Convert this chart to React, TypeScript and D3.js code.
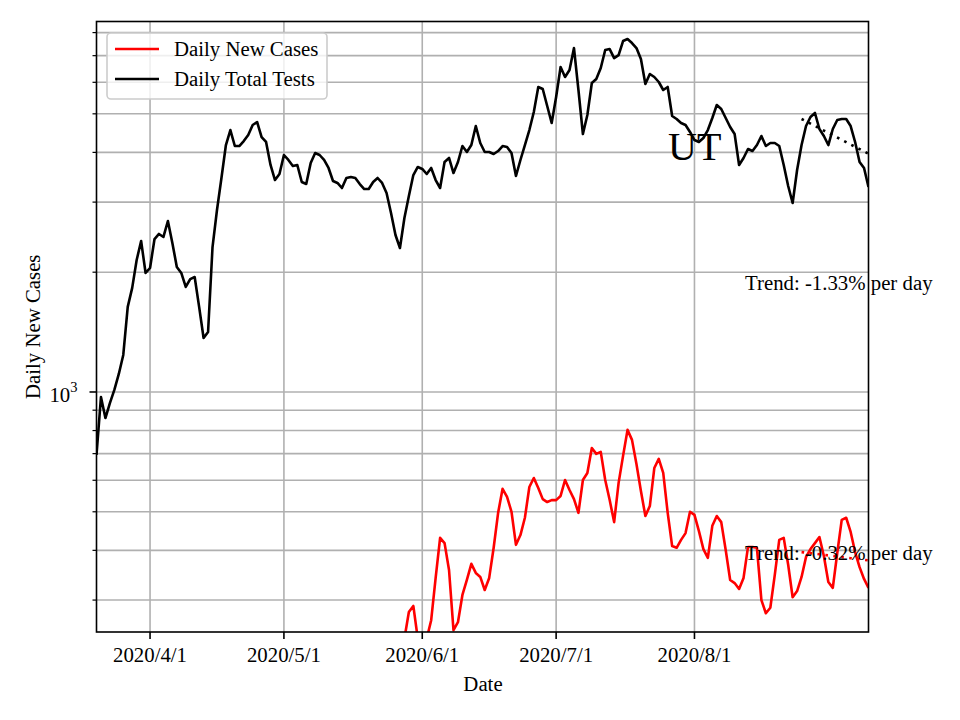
import React from 'react';
import * as d3 from 'd3';

const START_DATE = new Date(2020, 2, 20);

const dailyTotalTests: number[] = [
  695, 971, 860, 938, 1012, 1110, 1239, 1636, 1826, 2146,
  2395, 1991, 2049, 2423, 2495, 2452, 2689, 2368, 2061, 1991,
  1836, 1922, 1945, 1636, 1367, 1415, 2313, 2866, 3449, 4174,
  4552, 4150, 4150, 4272, 4423, 4686, 4768, 4372, 4248, 3719,
  3409, 3530, 3940, 3828, 3697, 3719, 3370, 3331, 3762, 3986,
  3940, 3828, 3655, 3390, 3351, 3255, 3449, 3469, 3449, 3331,
  3236, 3236, 3370, 3449, 3351, 3162, 2817, 2480, 2300, 2736,
  3108, 3509, 3676, 3634, 3530, 3655, 3409, 3255, 3784, 3873,
  3550, 3784, 4150, 4009, 4174, 4659, 4223, 4009, 4009, 3963,
  4032, 4150, 4126, 3986, 3489, 3828, 4174, 4552, 5053, 5840,
  5772, 5231, 4741, 5512, 6555, 6187, 6444, 7315, 5739, 4449,
  4966, 5976, 6116, 6518, 7231, 7273, 6904, 7025, 7618, 7706,
  7530, 7315, 6864, 5942, 6295, 6187, 6011, 5739, 5840, 4937,
  4852, 4741, 4686, 4501, 4297, 4248, 4347, 4552, 4880, 5262,
  5141, 4880, 4632, 4449, 3719, 3873, 4079, 4032, 4174, 4398,
  4150, 4223, 4223, 4150, 3719, 3293, 2984, 3613, 4174, 4659,
  4909, 5024, 4579, 4398, 4174, 4579, 4824, 4852, 4852, 4659,
  4248, 3784, 3655, 3274,
];

const dailyNewCases: number[] = [
  20, 28, 35, 48, 56, 70, 82, 95, 110, 102,
  118, 125, 130, 112, 120, 138, 145, 128, 115, 104,
  122, 136, 150, 142, 128, 118, 134, 152, 160, 148,
  135, 126, 144, 158, 170, 162, 148, 136, 150, 165,
  178, 172, 155, 140, 158, 175, 186, 180, 162, 150,
  168, 185, 196, 190, 172, 160, 178, 195, 205, 198,
  180, 170, 188, 205, 218, 210, 195, 214, 228, 240,
  280, 290, 240, 228, 240, 267, 341, 430, 417, 357,
  252, 264, 309, 337, 370, 351, 343, 318, 341, 406,
  497, 571, 545, 500, 413, 437, 483, 577, 608, 574,
  538, 529, 535, 535, 548, 601, 567, 538, 497, 601,
  626, 723, 699, 707, 601, 535, 471, 591, 691, 803,
  758, 659, 564, 488, 517, 644, 679, 626, 497, 410,
  406, 425, 442, 500, 491, 447, 403, 383, 461, 488,
  471, 401, 337, 331, 320, 341, 408, 408, 406, 300,
  278, 287, 347, 425, 430, 368, 305, 316, 343, 385,
  403, 417, 432, 387, 333, 322, 394, 477, 483, 445,
  396, 363, 339, 322,
];

const seriesNames = ['Daily New Cases', 'Daily Total Tests'];
const seriesColors = ['#ff0000', '#000000'];

const xTickDates = [new Date(2020, 3, 1), new Date(2020, 4, 1), new Date(2020, 5, 1), new Date(2020, 6, 1), new Date(2020, 7, 1)];
const xTickLabels = ['2020/4/1', '2020/5/1', '2020/6/1', '2020/7/1', '2020/8/1'];

const Y_DOMAIN = [249.4, 8530];

const TREND_START_INDEX = 158;
const testsTrend = { start: 4852, pctPerDay: -1.33, label: 'Trend: -1.33% per day' };
const casesTrend = { start: 396, pctPerDay: -0.32, label: 'Trend: -0.32% per day' };
const stateLabel = 'UT';

const W = 960, H = 720;
const L = 96.5, R = 868.5, T = 21.5, B = 632;
const FONT = '"Liberation Serif", "Times New Roman", Times, serif';
const FS = 20.8;

export default function App() {
  const dates = dailyTotalTests.map((_, i) => d3.timeDay.offset(START_DATE, i));
  const x = d3.scaleTime().domain([dates[0], dates[dates.length - 1]]).range([L, R]);
  const y = d3.scaleLog().domain(Y_DOMAIN).range([B, T]);

  const yTicks = y.ticks().filter((v) => v >= Y_DOMAIN[0] && v <= Y_DOMAIN[1]);
  const isMajor = (v: number) => Math.abs(Math.log10(v) - Math.round(Math.log10(v))) < 1e-9;

  const line = d3
    .line<number>()
    .x((_, i) => x(dates[i]))
    .y((v) => y(v));

  const trendPts = (tr: { start: number; pctPerDay: number }) => {
    const idx = d3.range(TREND_START_INDEX, dates.length);
    return idx.map((i) => [x(dates[i]), y(tr.start * Math.pow(1 + tr.pctPerDay / 100, i - TREND_START_INDEX))] as [number, number]);
  };
  const trendLine = d3.line<[number, number]>();

  const gridColor = '#b0b0b0';

  return (
    <div style={{ position: 'absolute', left: 0, top: 0 }}>
      <svg width={W} height={H} style={{ display: 'block', background: '#fff' }} fontFamily={FONT}>
        <defs>
          <clipPath id="plot">
            <rect x={L} y={T} width={R - L} height={B - T} />
          </clipPath>
        </defs>
        <rect x={0} y={0} width={W} height={H} fill="#fff" />
        {/* grid */}
        {xTickDates.map((d, i) => (
          <line key={'gx' + i} x1={x(d)} x2={x(d)} y1={T} y2={B} stroke={gridColor} strokeWidth={1.6} />
        ))}
        {yTicks.map((v, i) => (
          <line key={'gy' + i} x1={L} x2={R} y1={y(v)} y2={y(v)} stroke={gridColor} strokeWidth={1.6} />
        ))}
        <g clipPath="url(#plot)">
          <path d={line(dailyNewCases) || ''} fill="none" stroke={seriesColors[0]} strokeWidth={2.6} strokeLinejoin="round" />
          <path d={line(dailyTotalTests) || ''} fill="none" stroke={seriesColors[1]} strokeWidth={2.6} strokeLinejoin="round" />
          <path d={trendLine(trendPts(testsTrend)) || ''} fill="none" stroke="#000" strokeWidth={2.6} strokeDasharray="2.6,5.4" />
          <path d={trendLine(trendPts(casesTrend)) || ''} fill="none" stroke="#ff0000" strokeWidth={2.6} strokeDasharray="2.6,5.4" />
        </g>
        <text x={668} y={160} fontSize={40} fill="#000">{stateLabel}</text>
        <text x={745} y={290} fontSize={FS} fill="#000">{testsTrend.label}</text>
        <text x={745} y={560} fontSize={FS} fill="#000">{casesTrend.label}</text>
        {/* spines */}
        <rect x={L} y={T} width={R - L} height={B - T} fill="none" stroke="#000" strokeWidth={1.6} />
        {/* x ticks */}
        {xTickDates.map((d, i) => (
          <g key={'xt' + i}>
            <line x1={x(d)} x2={x(d)} y1={B} y2={B + 7} stroke="#000" strokeWidth={1.6} />
            <text x={x(d)} y={B + 30} fontSize={FS} textAnchor="middle" fill="#000">{xTickLabels[i]}</text>
          </g>
        ))}
        {/* y ticks */}
        {yTicks.map((v, i) => (
          <line key={'yt' + i} x1={L - (isMajor(v) ? 7 : 4)} x2={L} y1={y(v)} y2={y(v)} stroke="#000" strokeWidth={isMajor(v) ? 1.6 : 1.2} />
        ))}
        {yTicks.filter(isMajor).map((v, i) => (
          <text key={'yl' + i} x={L - 19} y={y(v) + 10} fontSize={FS} textAnchor="end" fill="#000">
            {'10'}
            <tspan fontSize={14.5} dy={-10}>{String(Math.round(Math.log10(v)))}</tspan>
          </text>
        ))}
        <text x={483} y={691} fontSize={FS} textAnchor="middle" fill="#000">Date</text>
        <text transform={`translate(40,${(T + B) / 2}) rotate(-90)`} fontSize={FS} textAnchor="middle" fill="#000">Daily New Cases</text>
        {/* legend */}
        <rect x={107} y={33} width={220} height={66} rx={4} ry={4} fill="#fff" fillOpacity={0.8} stroke="#cccccc" strokeWidth={1.6} />
        {seriesNames.map((n, i) => (
          <g key={'lg' + i}>
            <line x1={115} x2={159} y1={49 + i * 30} y2={49 + i * 30} stroke={seriesColors[i]} strokeWidth={2.6} />
            <text x={174} y={56 + i * 30} fontSize={FS} fill="#000">{n}</text>
          </g>
        ))}
      </svg>
    </div>
  );
}
